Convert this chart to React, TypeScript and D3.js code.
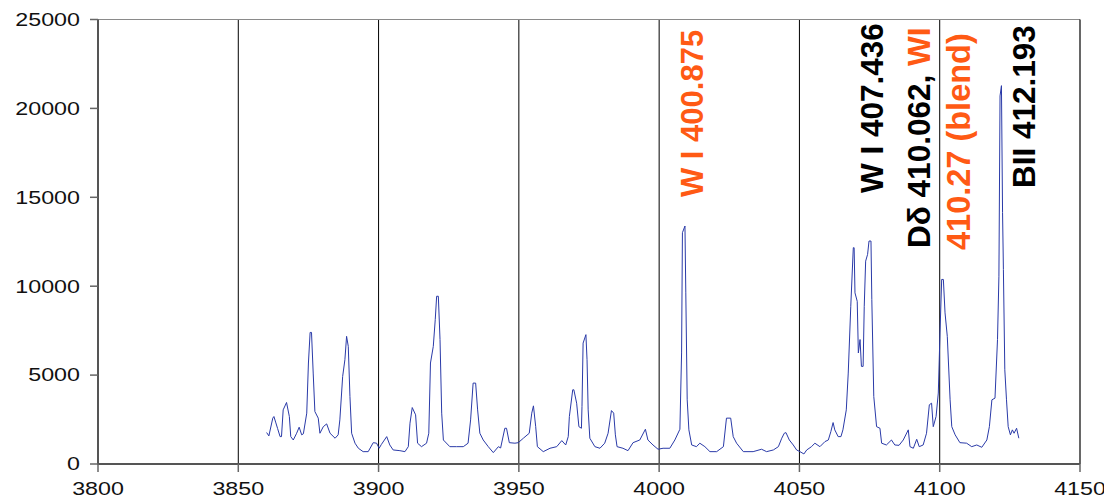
import React from "react";
import * as d3 from "d3";

const wavelengths: number[] = [
  3860.1, 3860.9, 3862.3, 3862.7, 3863.4, 3864.0, 3864.9, 3865.4, 3866.0, 3867.2,
  3868.2, 3868.7, 3869.6, 3870.8, 3871.7, 3872.6, 3873.2, 3874.4, 3875.0, 3875.6,
  3876.1, 3876.7, 3877.3, 3878.5, 3879.1, 3880.3, 3881.5, 3882.7, 3884.5, 3885.6,
  3886.2, 3887.2, 3888.0, 3888.6, 3889.2, 3889.8, 3890.4, 3891.6, 3892.8, 3894.5,
  3896.3, 3898.1, 3899.3, 3900.2, 3901.0, 3902.9, 3904.0, 3905.2, 3907.6, 3909.4,
  3910.6, 3911.2, 3912.0, 3913.2, 3913.9, 3915.3, 3917.1, 3917.9, 3918.5, 3919.5,
  3920.2, 3920.7, 3921.3, 3921.9, 3922.5, 3923.1, 3925.4, 3927.8, 3930.2, 3931.9,
  3932.8, 3933.7, 3934.6, 3935.3, 3936.1, 3937.3, 3939.1, 3940.9, 3942.7, 3943.5,
  3945.0, 3945.6, 3946.6, 3948.6, 3949.8, 3951.6, 3953.7, 3954.6, 3955.2, 3956.0,
  3956.6, 3958.7, 3961.1, 3963.5, 3965.3, 3966.7, 3967.6, 3968.0, 3969.2, 3969.6,
  3970.6, 3971.4, 3972.3, 3972.5, 3972.9, 3973.9, 3974.3, 3974.7, 3975.3, 3977.1,
  3978.9, 3980.6, 3981.8, 3983.0, 3983.8, 3984.4, 3985.0, 3987.1, 3988.9, 3990.7,
  3993.1, 3995.1, 3996.0, 3997.8, 3999.6, 4001.4, 4003.8, 4005.6, 4007.4, 4008.0,
  4008.3, 4009.2, 4009.5, 4010.0, 4010.6, 4011.6, 4013.3, 4014.5, 4016.3, 4018.1,
  4020.5, 4022.9, 4024.0, 4025.5, 4026.4, 4027.6, 4030.0, 4033.5, 4036.5, 4038.3,
  4040.7, 4042.5, 4043.7, 4044.6, 4045.2, 4046.4, 4047.8, 4049.0, 4050.2, 4051.6,
  4052.6, 4054.3, 4055.5, 4057.3, 4059.1, 4060.3, 4061.2, 4062.0, 4062.6, 4063.8,
  4064.8, 4065.5, 4066.7, 4067.4, 4068.3, 4069.2, 4069.5, 4069.8, 4070.6, 4071.0,
  4071.6, 4072.1, 4072.7, 4073.1, 4073.6, 4074.3, 4074.8, 4075.5, 4075.8, 4076.5,
  4077.5, 4078.7, 4079.3, 4081.0, 4082.8, 4084.0, 4085.5, 4087.0, 4088.8, 4089.4,
  4090.6, 4091.8, 4092.7, 4094.1, 4095.3, 4096.3, 4097.1, 4097.7, 4098.7, 4099.5,
  4100.1, 4100.7, 4101.3, 4101.9, 4102.7, 4103.7, 4104.3, 4105.5, 4107.2, 4109.6,
  4111.4, 4113.2, 4115.0, 4116.8, 4117.7, 4118.6, 4119.7, 4120.6, 4121.1, 4121.5,
  4122.0, 4122.4, 4122.7, 4123.2, 4123.8, 4124.4, 4125.2, 4125.9, 4126.5, 4127.4,
  4128.2,
];

const intensities: number[] = [
  1770, 1580, 2580, 2670, 2310, 2000, 1540, 1540, 3045, 3460,
  2670, 1540, 1350, 1730, 2070, 1640, 1700, 2860, 5680, 7400,
  7400, 5115, 2950, 2580, 1730, 2100, 2255, 1730, 1450, 1640,
  2480, 4925, 5865, 7180, 6615, 3800, 1730, 1170, 885, 695,
  695, 1200, 1170, 885, 1100, 1540, 1070, 790, 750, 695,
  975, 2295, 3175, 2765, 1170, 975, 1170, 1730, 5680, 6615,
  8120, 9435, 9435, 7000, 2860, 1350, 975, 975, 975, 1170,
  2480, 4550, 4550, 3045, 1730, 1350, 975, 640, 975, 900,
  2010, 2010, 1200, 1170, 1200, 1450, 1730, 2860, 3270, 2100,
  975, 695, 885, 975, 1315, 1070, 1540, 2670, 4175, 4175,
  3420, 2100, 2010, 3230, 6800, 7275, 5865, 3045, 1450, 975,
  885, 1170, 1730, 3005, 2860, 1640, 975, 885, 750, 1200,
  1350, 1955, 1350, 1070, 830, 885, 885, 1350, 1955, 6245,
  13010, 13385, 9625, 3610, 1920, 1070, 975, 1170, 975, 695,
  695, 975, 2580, 2580, 1540, 1170, 695, 695, 830, 695,
  790, 975, 1450, 1730, 1765, 1350, 1070, 790, 695, 565,
  790, 975, 1170, 975, 1260, 1350, 1820, 2330, 1920, 1540,
  1540, 1920, 3045, 5115, 8870, 12165, 12165, 9625, 9150, 6245,
  7000, 5490, 5490, 8870, 11410, 11790, 12540, 12540, 9250, 3800,
  2100, 2010, 1170, 1070, 1350, 1070, 1050, 1350, 1920, 975,
  885, 1390, 975, 1070, 1730, 3330, 3420, 2100, 2670, 3990,
  7370, 10380, 10380, 8500, 7180, 3610, 2100, 1640, 1200, 1170,
  975, 1070, 940, 1350, 2100, 3610, 3705, 7000, 10560, 20700,
  21280, 14140, 10940, 5300, 3610, 2100, 1640, 1920, 1730, 2010,
  1450,
];

const xTicks: number[] = [3800, 3850, 3900, 3950, 4000, 4050, 4100, 4150];
const yTicks: number[] = [0, 5000, 10000, 15000, 20000, 25000];

const ORANGE = "#ff5a14";
const FONT = "'Liberation Sans', Arial, sans-serif";

export default function App() {
  const W = 1104;
  const H = 499;
  const x = d3.scaleLinear().domain([3800, 4150]).range([98, 1080]);
  const y = d3.scaleLinear().domain([0, 25000]).range([464, 19.5]);
  const pts: [number, number][] = wavelengths.map((w, i) => [w, intensities[i]]);
  const line = d3
    .line<[number, number]>()
    .x((d) => x(d[0]))
    .y((d) => y(d[1]));

  const labelStyle = { fontFamily: FONT, fontWeight: 700 } as const;

  return (
    <svg
      width={W}
      height={H}
      style={{ position: "absolute", left: 0, top: 0, background: "#fff" }}
    >
      {/* vertical gridlines */}
      {xTicks.slice(1, -1).map((t) => (
        <line key={"g" + t} x1={x(t)} x2={x(t)} y1={y(25000)} y2={y(0)} stroke="#000" strokeWidth={1} />
      ))}
      {/* frame: top and right */}
      <line x1={x(3800)} x2={x(4150)} y1={y(25000)} y2={y(25000)} stroke="#8a8a8a" strokeWidth={1} />
      <line x1={x(4150)} x2={x(4150)} y1={y(25000)} y2={y(0)} stroke="#000" strokeWidth={1.2} />

      {/* spectrum */}
      <path d={line(pts) || ""} fill="none" stroke="#2a3aa8" strokeWidth={1} strokeLinejoin="round" />

      {/* axes */}
      <line x1={x(3800)} x2={x(3800)} y1={y(25000)} y2={y(0) + 1} stroke="#555" strokeWidth={2} />
      <line x1={x(3800) - 1} x2={x(4150)} y1={y(0)} y2={y(0)} stroke="#555" strokeWidth={2} />
      {yTicks.map((t) => (
        <g key={"y" + t}>
          <line x1={x(3800) - 8} x2={x(3800)} y1={y(t)} y2={y(t)} stroke="#666" strokeWidth={1.5} />
          <text
            transform={`translate(80, ${y(t)}) scale(1.33, 1)`}
            textAnchor="end"
            dy="0.36em"
            fontSize={17.5}
            fontFamily={FONT}
            fill="#111"
          >
            {t}
          </text>
        </g>
      ))}
      {xTicks.map((t) => (
        <g key={"x" + t}>
          <line x1={x(t)} x2={x(t)} y1={y(0)} y2={y(0) + 8} stroke="#666" strokeWidth={1.5} />
          <text
            transform={`translate(${x(t)}, 495.4) scale(1.33, 1)`}
            textAnchor="middle"
            fontSize={17.5}
            fontFamily={FONT}
            fill="#111"
          >
            {t}
          </text>
        </g>
      ))}

      {/* line labels */}
      <text transform="translate(703, 197) rotate(-90)" fontSize={31} fill={ORANGE} style={labelStyle}>
        W I 400.875
      </text>
      <text transform="translate(883, 193) rotate(-90)" fontSize={31.5} fill="#000" style={labelStyle}>
        W I 407.436
      </text>
      <text transform="translate(930, 248) rotate(-90)" fontSize={31.5} fill="#000" style={labelStyle}>
        Dδ 410.062, <tspan fill={ORANGE}>WI</tspan>
      </text>
      <text transform="translate(970, 250) rotate(-90)" fontSize={32.5} fill={ORANGE} style={labelStyle}>
        410.27 (blend)
      </text>
      <text transform="translate(1035, 188) rotate(-90)" fontSize={31.5} fill="#000" style={labelStyle}>
        BII 412.193
      </text>
    </svg>
  );
}
